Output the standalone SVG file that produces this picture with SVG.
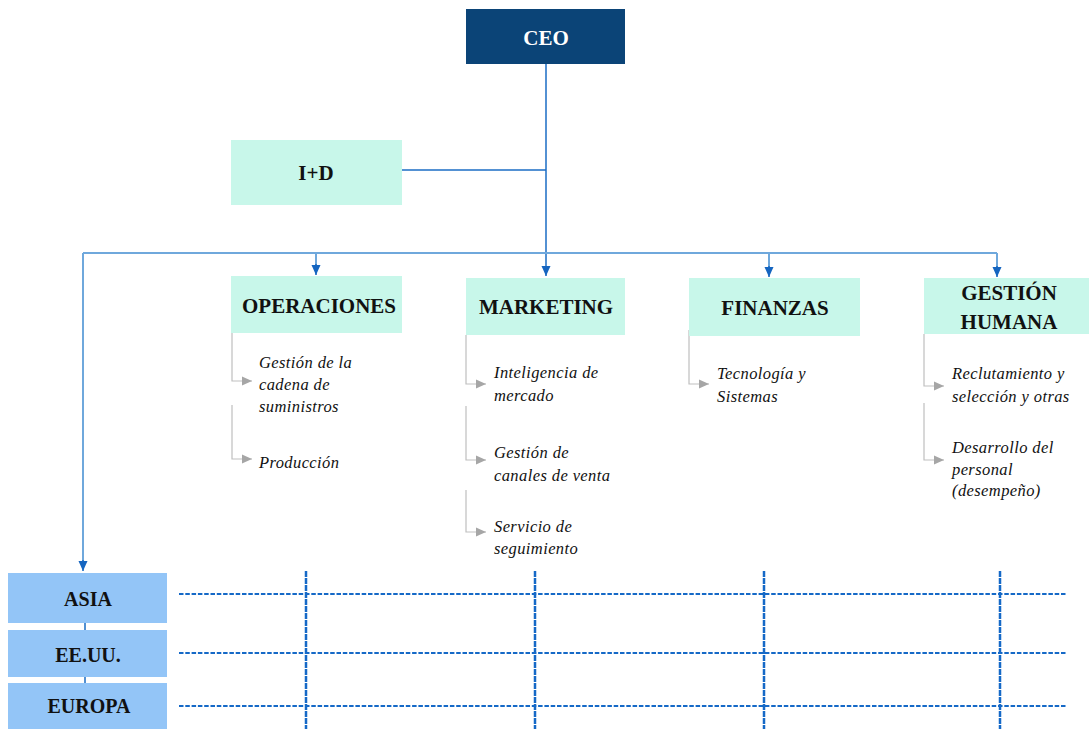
<svg xmlns="http://www.w3.org/2000/svg" width="1089" height="729" viewBox="0 0 1089 729">
<defs>
<marker id="ab" viewBox="0 0 10 10" markerUnits="userSpaceOnUse" markerWidth="10" markerHeight="10" refX="10" refY="5" orient="auto"><path d="M0,0.5 L10,5 L0,9.5 z" fill="#1565c0"/></marker>
<marker id="ag" viewBox="0 0 10 10" markerUnits="userSpaceOnUse" markerWidth="11" markerHeight="10" refX="10" refY="5" orient="auto"><path d="M0,0.5 L10,5 L0,9.5 z" fill="#a6a6a6"/></marker>
<style>
.t{font-family:"Liberation Serif","Times New Roman",serif;font-weight:bold;font-size:21px;fill:#111;text-anchor:middle}
.s{font-family:"Liberation Serif","Times New Roman",serif;font-style:italic;font-size:16.5px;letter-spacing:0.4px;fill:#111}
.box{fill:#c8f7ea}
.reg{fill:#93c5f7}
.c{fill:none;stroke:#1a6cc4;stroke-width:1.5}
.bus{fill:none;stroke:#6fa8dc;stroke-width:2}
.g{fill:none;stroke:#bfbfbf;stroke-width:1.2}
.dh{fill:none;stroke:#1569c7;stroke-width:2;stroke-dasharray:4.5 1.8}
.dv{fill:none;stroke:#1569c7;stroke-width:2.5;stroke-dasharray:6 1}
</style>
</defs>

<g id="connectors">
<path class="c" d="M546 64 V276" marker-end="url(#ab)"/>
<path class="c" d="M402 170 H546"/>
<path class="bus" d="M83 253 H997"/>
<path class="bus" d="M316 253 V266"/>
<path class="c" d="M316 264 V275" marker-end="url(#ab)"/>
<path class="bus" d="M769 253 V268"/>
<path class="c" d="M769 266 V277" marker-end="url(#ab)"/>
<path class="bus" d="M997 253 V268"/>
<path class="c" d="M997 266 V277" marker-end="url(#ab)"/>
<path class="bus" d="M83 253 V562"/>
<path class="c" d="M83 560 V571" marker-end="url(#ab)"/>
<path class="c" d="M85 623 V630 M85 677 V683"/>
<path class="g" d="M232 333 V381 H252" marker-end="url(#ag)"/>
<path class="g" d="M232 405 V459 H252" marker-end="url(#ag)"/>
<path class="g" d="M466 335 V384 H486" marker-end="url(#ag)"/>
<path class="g" d="M466 406 V460 H486" marker-end="url(#ag)"/>
<path class="g" d="M466 490 V532 H486" marker-end="url(#ag)"/>
<path class="g" d="M689 330 V384 H709" marker-end="url(#ag)"/>
<path class="g" d="M924 334 V386 H944" marker-end="url(#ag)"/>
<path class="g" d="M924 403 V460 H944" marker-end="url(#ag)"/>
<path class="dh" d="M179 594 H1066 M179 653 H1066 M179 706 H1066"/>
<path class="dv" d="M306 571 V729 M535 571 V729 M764 571 V729 M1000 571 V729"/>
</g>

<g id="ceo"><rect x="466" y="9" width="159" height="55" fill="#0b4477"/><text class="t" x="546" y="45" style="fill:#fff">CEO</text></g>
<g id="id"><rect class="box" x="231" y="140" width="171" height="65"/><text class="t" x="316" y="180">I+D</text></g>
<g id="operaciones"><rect class="box" x="231" y="276" width="171" height="57"/><text class="t" x="319" y="313">OPERACIONES</text></g>
<g id="marketing"><rect class="box" x="466" y="278" width="159" height="57"/><text class="t" x="546" y="314">MARKETING</text></g>
<g id="finanzas"><rect class="box" x="689" y="278" width="171" height="58"/><text class="t" x="775" y="315">FINANZAS</text></g>
<g id="gestion"><rect class="box" x="924" y="278" width="170" height="56"/><text class="t" x="1009" y="300">GESTIÓN</text><text class="t" x="1009" y="329">HUMANA</text></g>

<g id="ops-items"><text class="s" x="259" y="368">Gestión de la</text><text class="s" x="259" y="390">cadena de</text><text class="s" x="259" y="412">suministros</text><text class="s" x="259" y="468">Producción</text></g>
<g id="mkt-items"><text class="s" x="494" y="378">Inteligencia de</text><text class="s" x="494" y="401">mercado</text><text class="s" x="494" y="458">Gestión de</text><text class="s" x="494" y="481">canales de venta</text><text class="s" x="494" y="532">Servicio de</text><text class="s" x="494" y="554">seguimiento</text></g>
<g id="fin-items"><text class="s" x="717" y="379">Tecnología y</text><text class="s" x="717" y="402">Sistemas</text></g>
<g id="gh-items"><text class="s" x="952" y="379">Reclutamiento y</text><text class="s" x="952" y="402">selección y otras</text><text class="s" x="952" y="453">Desarrollo del</text><text class="s" x="952" y="475">personal</text><text class="s" x="952" y="496">(desempeño)</text></g>

<g id="asia"><rect class="reg" x="8" y="573" width="159" height="50"/><text class="t" x="88" y="606" style="font-size:20px">ASIA</text></g>
<g id="eeuu"><rect class="reg" x="8" y="630" width="159" height="47"/><text class="t" x="88" y="662" style="font-size:20px">EE.UU.</text></g>
<g id="europa"><rect class="reg" x="8" y="683" width="159" height="46"/><text class="t" x="89" y="713" style="font-size:20px">EUROPA</text></g>
</svg>
